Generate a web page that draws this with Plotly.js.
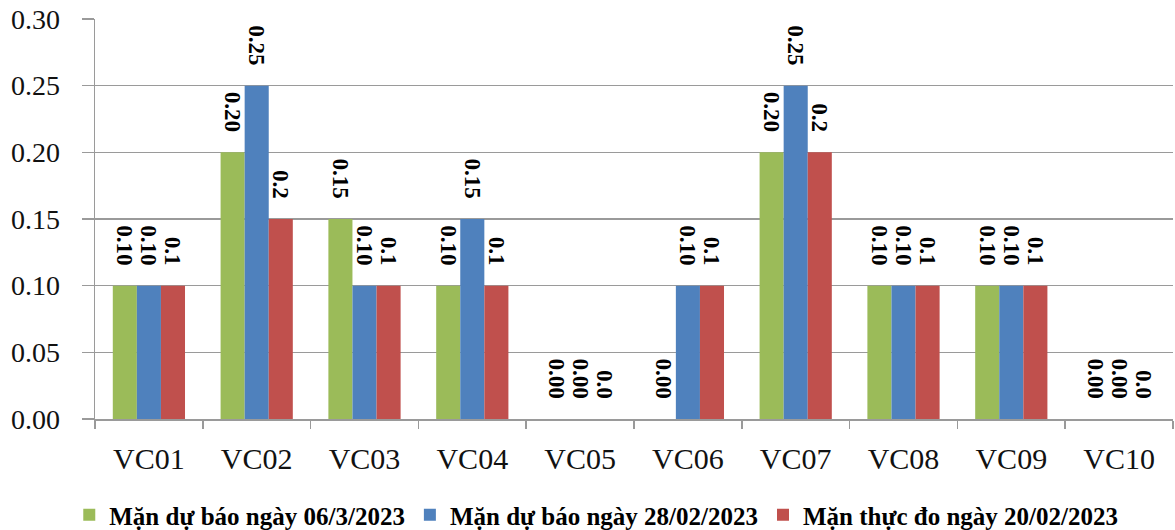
<!DOCTYPE html>
<html><head><meta charset="utf-8">
<script src="https://cdn.plot.ly/plotly-3.0.1.min.js"></script>
<style>html,body{margin:0;padding:0;background:#fff}#c{width:1175px;height:530px}</style>
</head><body><div id="c"></div>
<script>
const categories = ['VC01','VC02','VC03','VC04','VC05','VC06','VC07','VC08','VC09','VC10'];
const seriesNames = ['Mặn dự báo ngày 06/3/2023','Mặn dự báo ngày 28/02/2023','Mặn thực đo ngày 20/02/2023'];
const fc0603 = [0.10,0.20,0.15,0.10,0.00,0.00,0.20,0.10,0.10,0.00];
const fc2802 = [0.10,0.25,0.10,0.15,0.00,0.10,0.25,0.10,0.10,0.00];
const obs2002 = [0.10,0.15,0.10,0.10,0.00,0.10,0.20,0.10,0.10,0.00];
const lbl0603 = ['0.10','0.20','0.15','0.10','0.00','0.00','0.20','0.10','0.10','0.00'];
const lbl2802 = ['0.10','0.25','0.10','0.15','0.00','0.10','0.25','0.10','0.10','0.00'];
const lbl2002 = ['0.1','0.2','0.1','0.1','0.0','0.1','0.2','0.1','0.1','0.0'];
const yTicks = [0,0.05,0.10,0.15,0.20,0.25,0.30];
const yTickText = ['0.00','0.05','0.10','0.15','0.20','0.25','0.30'];

const SERIF = '"Liberation Serif", "Times New Roman", serif';
const colors = ['#9BBB59','#4F81BD','#C0504D'];
const pad = '\u00a0\u00a0\u00a0';
function mk(i, y, t){
  return {type:'bar', name:seriesNames[i], x:categories, y:y,
    text:t.map(s=>s+pad), textposition:'outside', textangle:90, cliponaxis:false, constraintext:'none',
    textfont:{family:SERIF, size:23, color:'#000', weight:'bold'},
    marker:{color:colors[i]}, hoverinfo:'none'};
}
const data = [mk(0,fc0603,lbl0603), mk(1,fc2802,lbl2802), mk(2,obs2002,lbl2002)];
const layout = {
  width:1175, height:530, margin:{l:95,r:2,t:19,b:111, autoexpand:false},
  barmode:'group', bargap:0.33, bargroupgap:0,
  paper_bgcolor:'#fff', plot_bgcolor:'#fff',
  font:{family:SERIF, color:'#000'},
  showlegend:true,
  legend:{orientation:'h', x:0.465, xanchor:'center', y:-0.24, yanchor:'middle',
    font:{family:SERIF, size:25, color:'#000', weight:'bold'}, traceorder:'normal'},
  xaxis:{type:'category', showline:true, linecolor:'#9a9a9a', linewidth:1.5, ticks:'outside', tickson:'boundaries',
    ticklen:8, tickcolor:'#9a9a9a', tickwidth:1.5, tickfont:{size:30, family:SERIF, color:'#111'}, ticklabelstandoff:12,
    showgrid:false, fixedrange:true},
  yaxis:{range:[0,0.30], tickvals:yTicks, ticktext:yTickText, showline:true, linecolor:'#9a9a9a', linewidth:1.5,
    ticks:'outside', ticklen:12, tickcolor:'#9a9a9a', tickwidth:1.5, showgrid:true, gridcolor:'#9a9a9a', gridwidth:1.5,
    zeroline:false, tickfont:{size:28, family:SERIF, color:'#111'}, ticklabelstandoff:16, fixedrange:true}
};
Plotly.newPlot('c', data, layout, {displayModeBar:false, staticPlot:true});
</script></body></html>
